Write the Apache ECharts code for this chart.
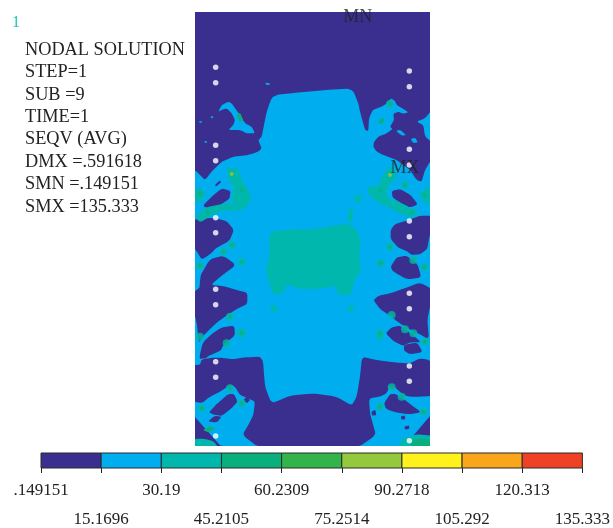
<!DOCTYPE html>
<html><head><meta charset="utf-8">
<style>html,body{margin:0;padding:0;background:#fff}#c{width:613px;height:528px}</style>
<script src="https://cdn.jsdelivr.net/npm/echarts@6/dist/echarts.min.js"></script></head>
<body><div id="c"></div>
<script>
// Result bands: contour boundaries, in model coordinates
const modelX = [15, 720];
const modelY = [21, 1323];
const bandCyan = [
 [[245,278],[265,268],[470,250],[490,258],[505,295],[510,320],[525,375],[535,378],[537,340],[548,315],[572,306],[590,296],[603,280],[615,288],[620,300],[640,312],[655,322],[640,326],[625,320],[610,326],[612,345],[600,365],[608,372],[590,385],[565,395],[552,410],[550,425],[560,440],[580,450],[620,465],[640,480],[660,495],[680,525],[695,530],[705,495],[720,470],[740,470],[740,1340],[-5,1340],[-5,495],[15,495],[30,510],[45,525],[65,500],[95,470],[130,455],[175,450],[205,440],[215,430],[205,405],[215,395],[220,370],[230,320]],
 [[85,320],[95,300],[115,290],[125,295],[135,310],[150,330],[165,355],[185,365],[195,385],[170,385],[150,375],[115,375],[130,360],[135,345],[125,325],[110,310],[95,315]],
 [[730,310],[705,340],[680,350],[700,360],[705,395],[730,415]],
 [[618,378],[630,374],[648,390],[636,392]],
 [[662,402],[675,398],[684,412],[670,414]],
 [[226,233],[240,235],[238,240],[228,239]],
 [[27,349],[37,349],[35,353],[29,353]],
 [[62,334],[70,334],[68,340],[63,339]],
 [[43,409],[51,408],[50,413],[44,413]]
];
const bandDeep = [
 [[-5,1080],[30,1080],[35,1063],[80,1057],[130,1063],[165,1057],[218,1055],[225,1145],[240,1185],[250,1193],[300,1172],[370,1165],[440,1175],[485,1202],[500,1175],[510,1115],[516,1055],[560,1065],[620,1073],[660,1075],[690,1060],[718,1065],[740,1090],[740,1172],[690,1175],[660,1175],[640,1170],[615,1147],[600,1140],[590,1165],[570,1175],[537,1180],[540,1225],[548,1255],[558,1290],[500,1330],[210,1330],[157,1290],[175,1260],[190,1230],[195,1190],[175,1180],[150,1170],[135,1145],[120,1140],[90,1160],[60,1175],[35,1195],[-5,1185]],
 [[38,603],[65,575],[95,550],[122,558],[118,582],[85,603],[55,610]],
 [[605,558],[630,552],[662,570],[684,598],[660,608],[630,592],[608,578]],
 [[-5,645],[70,638],[110,648],[132,675],[118,708],[80,728],[60,748],[35,764],[20,738],[-5,715]],
 [[32,810],[60,762],[100,752],[138,780],[100,808],[62,840],[100,843],[140,855],[172,863],[172,897],[140,912],[110,932],[85,949],[60,972],[40,992],[26,1014],[20,950],[-5,870],[28,850],[30,830]],
 [[27,1062],[38,1013],[65,987],[95,967],[133,962],[135,992],[102,1017],[92,1037],[55,1053],[48,1060]],
 [[602,675],[615,657],[650,647],[690,632],[740,632],[718,695],[712,732],[690,748],[665,750],[650,738],[625,728],[602,702]],
 [[602,785],[620,757],[650,752],[683,778],[694,818],[650,823],[608,798]],
 [[566,872],[600,865],[650,848],[690,832],[740,860],[720,905],[712,945],[717,1003],[680,983],[650,968],[625,952],[600,932],[570,912],[550,885]],
 [[587,985],[605,967],[630,962],[652,978],[672,993],[693,1012],[660,1012],[640,1023],[610,1008]],
 [[642,1020],[682,1012],[698,1042],[660,1048],[642,1037]],
 [[57,1222],[80,1197],[115,1167],[132,1167],[143,1190],[122,1212],[95,1233],[68,1228]],
 [[54,1249],[75,1232],[95,1235],[80,1253]],
 [[160,1185],[170,1175],[181,1185],[170,1195]],
 [[582,1195],[600,1167],[617,1167],[642,1183],[668,1203],[694,1222],[660,1228],[620,1223],[588,1212]],
 [[544,1220],[556,1214],[559,1230],[547,1232]],
 [[632,1235],[644,1231],[646,1243],[635,1244]],
 [[643,1265],[657,1261],[658,1271],[646,1274]],
 [[75,540],[90,526],[93,532],[78,545]]
];
const bandTeal = [
 [[238,680],[300,674],[380,672],[470,655],[502,675],[512,715],[507,755],[514,795],[492,830],[482,872],[443,869],[438,842],[390,852],[330,852],[290,837],[276,867],[248,867],[238,835],[228,795],[238,755]],
 [[470,652],[480,608],[489,608],[487,652]],
 [[488,580],[505,568],[519,580],[505,597]],
 [[238,910],[250,898],[264,910],[250,924]],
 [[470,910],[483,900],[496,910],[483,922]],
 [[110,488],[142,488],[154,520],[188,580],[155,620],[123,587],[133,550],[116,525]],
 [[123,593],[155,620],[100,615],[60,635],[30,652],[15,637],[45,608],[90,598]],
 [[-5,548],[40,551],[47,575],[30,592],[-5,587]],
 [[588,495],[614,483],[620,520],[602,535],[587,565],[602,585],[612,612],[570,597],[533,567],[533,545],[565,543],[573,520]],
 [[608,583],[650,603],[692,628],[660,637],[620,622],[598,605]],
 [[690,560],[740,538],[740,597],[698,592]],
 [[-5,1303],[40,1301],[70,1308],[95,1340],[-5,1340]],
 [[615,1340],[640,1298],[680,1288],[740,1293],[740,1340]],
 [[138,975],[158,970],[170,985],[152,1002]],
 [[558,985],[575,978],[580,1000],[562,1007]]
];
const bandGreen = [
 [[660,1312],[690,1300],[740,1305],[740,1340],[670,1340]],
 [[38,1275],[60,1263],[77,1270],[55,1282]],
 [[140,330],[150,323],[160,345],[150,352]],
 [[563,352],[578,338],[586,345],[572,358]]
];
const spotsGreen = [[30,565],[155,557],[52,622],[125,720],[155,770],[30,782],[100,740],[572,558],[665,622],[703,570],[600,725],[572,775],[670,765],[703,787],[645,540],[120,935],[155,983],[110,1015],[30,995],[570,985],[605,930],[645,973],[670,985],[705,1010],[570,1205],[635,1175],[700,1220],[120,1150],[155,1195],[35,1210],[605,1147],[600,297],[125,507],[600,510]];
const spotsHot = [[125,507],[600,510]];
const holesLeft = [[77,187],[77,233],[77,421],[77,467],[77,638],[77,683],[77,853],[77,899],[77,1070],[77,1117],[77,1293]];
const holesRight = [[658,198],[658,245],[658,433],[658,480],[658,648],[658,695],[658,865],[658,911],[658,1083],[658,1129],[658,1307]];
const extremes = [{name:'MN',value:[503,36]},{name:'MX',value:[645,490]}];
// Legend
const levels = [0.149151,15.1696,30.19,45.2105,60.2309,75.2514,90.2718,105.292,120.313,135.333];
const levelLabels = ['.149151','15.1696','30.19','45.2105','60.2309','75.2514','90.2718','105.292','120.313','135.333'];
const levelColors = ['#3A2F8F','#00AEEF','#00B7AE','#0BAF7C','#32B44A','#95C93D','#FFF11C','#FAA61A','#EF4123'];
const infoLines = ['NODAL SOLUTION','STEP=1','SUB =9','TIME=1','SEQV (AVG)','DMX =.591618','SMN =.149151','SMX =135.333'];
const serif = '"Liberation Serif","Times New Roman",serif';

// Light corner-cutting keeps contour outlines smooth without overshooting
function rounded(pts){
  let cur = pts;
  for(let k=0;k<2;k++){
    const next=[];
    cur.forEach((p,i)=>{const q=cur[(i+1)%cur.length];
      next.push([p[0]*.85+q[0]*.15,p[1]*.85+q[1]*.15],[p[0]*.15+q[0]*.85,p[1]*.15+q[1]*.85]);});
    cur=next;
  }
  return cur;
}
function bandSeries(polys, color){
  return {type:'custom',xAxisIndex:0,yAxisIndex:0,silent:true,animation:false,clip:true,
    data:polys.map((p,i)=>[i]),
    renderItem:(params,api)=>({type:'polygon',
      shape:{points:rounded(polys[api.value(0)].map(p=>api.coord(p)))},
      style:{fill:color}})};
}
const evens = levels.filter((v,i)=>i%2===0), odds = levels.filter((v,i)=>i%2===1);
const labelOf = v => levelLabels[levels.indexOf(v)];
function legendAxis(vals, margin, showTick){
  return {type:'value',gridIndex:1,min:levels[0],max:levels[9],position:'bottom',
    axisLine:{show:false},splitLine:{show:false},
    axisTick:{show:showTick,customValues:levels,length:5,lineStyle:{color:'#222',width:1}},
    axisLabel:{customValues:vals,margin:margin,formatter:labelOf,color:'#222',fontFamily:serif,fontSize:17,hideOverlap:false,showMinLabel:true,showMaxLabel:true}};
}
const option = {
  backgroundColor:'#fff',animation:false,
  grid:[{left:195,top:12,width:235,height:434,show:true,backgroundColor:levelColors[0],borderWidth:0},
        {left:41,top:453,width:543,height:15,borderWidth:0}],
  xAxis:[{type:'value',min:modelX[0],max:modelX[1],show:false,gridIndex:0},
         legendAxis(evens,14,true),legendAxis(odds,43,false)],
  yAxis:[{type:'value',min:modelY[0],max:modelY[1],inverse:true,show:false,gridIndex:0},
         {type:'value',min:0,max:1,show:false,gridIndex:1}],
  series:[
    bandSeries(bandCyan,levelColors[1]),
    bandSeries(bandDeep,levelColors[0]),
    bandSeries(bandTeal,levelColors[2]),
    bandSeries(bandGreen,levelColors[3]),
    {type:'scatter',data:spotsGreen,symbolSize:8,itemStyle:{color:levelColors[2]},silent:true,xAxisIndex:0,yAxisIndex:0},
    {type:'scatter',data:spotsGreen,symbolSize:4,itemStyle:{color:levelColors[3]},silent:true,xAxisIndex:0,yAxisIndex:0},
    {type:'scatter',data:spotsHot,symbolSize:4,itemStyle:{color:levelColors[5]},silent:true,xAxisIndex:0,yAxisIndex:0},
    {type:'scatter',data:holesLeft.concat(holesRight),symbolSize:5.5,itemStyle:{color:'#fff'},silent:true,xAxisIndex:0,yAxisIndex:0},
    {type:'scatter',data:extremes,symbolSize:0,silent:true,xAxisIndex:0,yAxisIndex:0,
      label:{show:true,position:'inside',formatter:'{b}',color:'#222',fontFamily:serif,fontSize:18}},
    {type:'custom',xAxisIndex:1,yAxisIndex:1,silent:true,data:levelColors.map((c,i)=>[i]),
      renderItem:(params,api)=>{const i=api.value(0);
        const a=api.coord([levels[i],1]),b=api.coord([levels[i+1],0]);
        return {type:'rect',shape:{x:a[0],y:a[1],width:b[0]-a[0],height:b[1]-a[1]},
          style:{fill:levelColors[i],stroke:'#2b2b2b',lineWidth:1}};}}
  ],
  graphic:[{type:'text',left:12,top:15,style:{text:'1',fill:'#19c5bb',font:'16px '+serif}}].concat(
    infoLines.map((t,i)=>({type:'text',left:25,top:41+i*22.4,style:{text:t,fill:'#222',font:'18.3px '+serif}})))
};
echarts.init(document.getElementById('c'),null,{renderer:'canvas'}).setOption(option);
</script></body></html>
